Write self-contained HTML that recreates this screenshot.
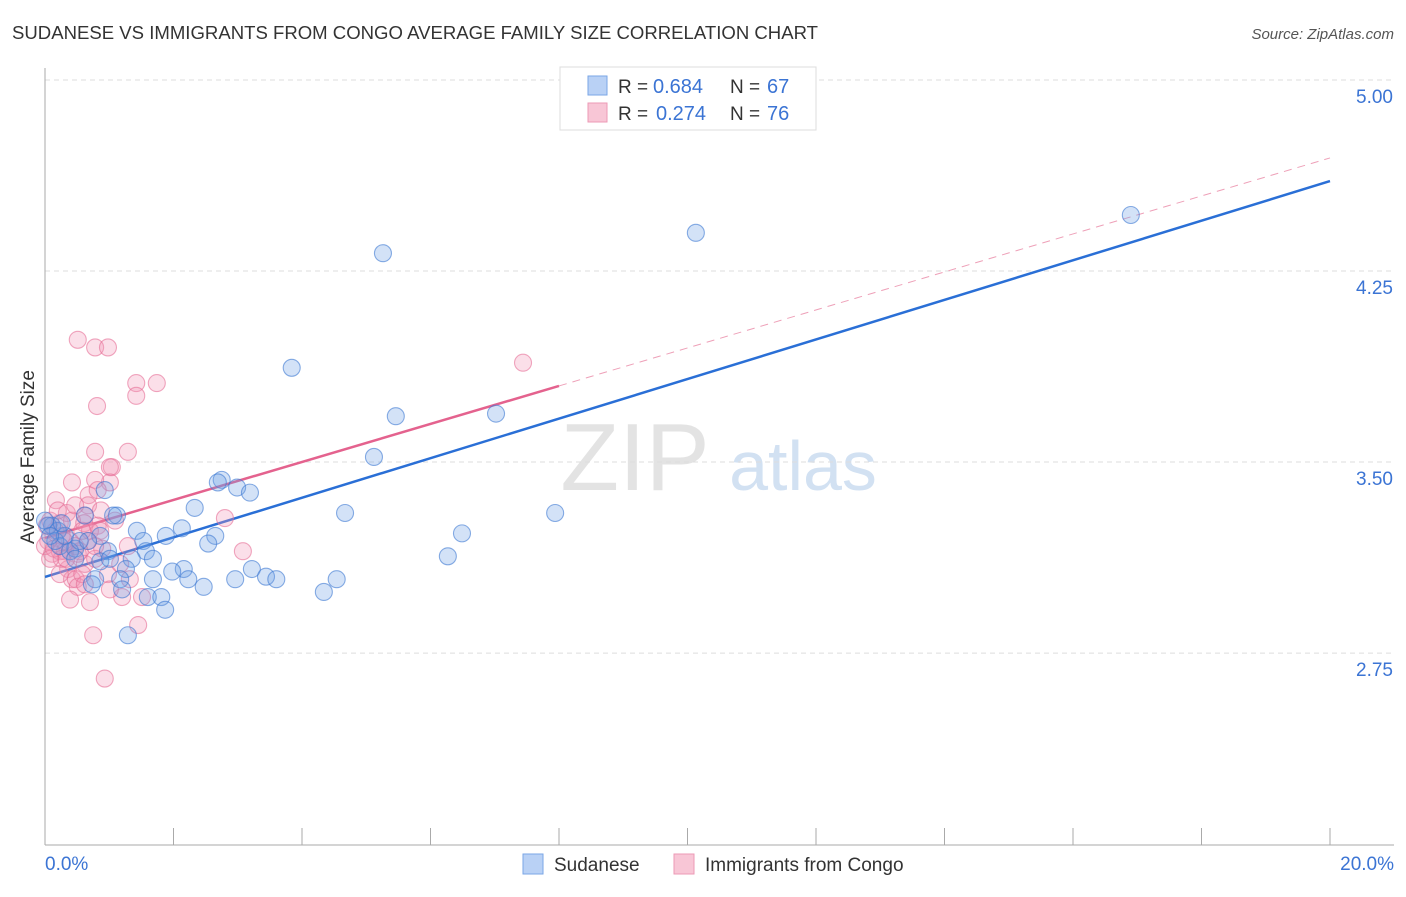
<!DOCTYPE html>
<html><head><meta charset="utf-8">
<style>
body{margin:0;background:#fff;font-family:"Liberation Sans",sans-serif;}
svg text{font-family:"Liberation Sans",sans-serif;}
</style></head>
<body>
<svg id="chart" width="1406" height="892" xmlns="http://www.w3.org/2000/svg">
<text x="12" y="39" font-size="18" fill="#333" textLength="806" lengthAdjust="spacingAndGlyphs">SUDANESE VS IMMIGRANTS FROM CONGO AVERAGE FAMILY SIZE CORRELATION CHART</text>
<text x="1394" y="39" font-size="15" fill="#555" font-style="italic" text-anchor="end">Source: ZipAtlas.com</text>
<g>
<text x="635" y="490" font-size="96" fill="#ddd" text-anchor="middle" font-family="Liberation Serif" opacity="0.8">ZIP</text>
<text x="803" y="490" font-size="70" fill="#c8daf0" text-anchor="middle" opacity="0.8">atlas</text>
</g>
<g id="grid"></g>
<g id="axes"></g>
<g id="lines"></g>
<g id="pts"></g>
<text transform="translate(34,457) rotate(-90)" font-size="19" fill="#333" text-anchor="middle">Average Family Size</text>
<g>
<rect x="560" y="67" width="256" height="63" fill="#fff" stroke="#ddd"/>
<rect x="588" y="76" width="19" height="19" fill="#b9d1f5" stroke="#7aa6e6"/>
<rect x="588" y="103" width="19" height="19" fill="#f8c6d6" stroke="#ec9ab6"/>
<text x="618" y="93" font-size="19" fill="#333">R =</text>
<text x="653" y="93" font-size="20" fill="#3b74d4">0.684</text>
<text x="730" y="93" font-size="19" fill="#333">N =</text>
<text x="767" y="93" font-size="20" fill="#3b74d4">67</text>
<text x="618" y="120" font-size="19" fill="#333">R =</text>
<text x="656" y="120" font-size="20" fill="#3b74d4">0.274</text>
<text x="730" y="120" font-size="19" fill="#333">N =</text>
<text x="767" y="120" font-size="20" fill="#3b74d4">76</text>
</g>
<g>
<rect x="523" y="854" width="20" height="20" fill="#b9d1f5" stroke="#7aa6e6"/>
<text x="554" y="871" font-size="19" fill="#333">Sudanese</text>
<rect x="674" y="854" width="20" height="20" fill="#f8c6d6" stroke="#ec9ab6"/>
<text x="705" y="871" font-size="19" fill="#333">Immigrants from Congo</text>
</g>
</svg>
<script>
const yTicks=[5.00,4.25,3.50,2.75];
const xTickLabels=["0.0%","20.0%"];
const blueX=[16.90,10.13,5.26,3.84,5.46,7.02,5.12,2.75,2.69,2.99,3.19,0.93,2.33,4.67,7.94,1.12,1.06,6.49,2.13,2.65,1.43,1.88,1.53,2.54,0.86,0.11,0.20,0.47,0.67,0.98,1.57,1.68,1.35,6.27,0.86,1.26,2.16,1.98,3.22,3.44,3.60,2.23,1.68,2.96,1.17,0.78,4.54,4.34,2.47,1.20,1.60,1.81,1.87,1.29,0.23,0.39,0.05,0.16,0.31,0.62,1.01,0.54,0.26,0.47,0.73,0.0,0.08];
const blueY=[4.47,4.40,4.32,3.87,3.68,3.69,3.52,3.43,3.42,3.40,3.38,3.39,3.32,3.30,3.30,3.29,3.29,3.22,3.24,3.21,3.23,3.21,3.19,3.18,3.21,3.25,3.23,3.16,3.19,3.15,3.15,3.12,3.12,3.13,3.11,3.08,3.08,3.07,3.08,3.05,3.04,3.04,3.04,3.04,3.04,3.04,3.04,2.99,3.01,3.00,2.97,2.97,2.92,2.82,3.17,3.15,3.25,3.19,3.21,3.29,3.12,3.19,3.26,3.12,3.02,3.27,3.21];
const pinkX=[0.51,0.78,0.98,1.42,1.74,1.42,0.81,0.78,1.29,0.42,1.04,1.01,1.01,0.17,0.78,0.68,0.67,0.87,0.62,0.23,0.34,0.42,0.82,0.61,2.80,0.70,0.39,0.47,0.31,0.11,0.23,0.54,0.89,1.29,3.08,0.16,0.26,0.05,0.08,0.62,0.36,0.42,0.48,0.98,1.32,0.51,0.70,1.20,1.51,7.44,1.45,0.75,0.93,0.26,0.78,0.58,1.17,0.67,0.86,0.0,0.20,0.47,0.82,1.09,0.33,0.14,0.03,0.39,0.62,1.01,0.23,0.51,0.78,0.30,0.58,0.08];
const pinkY=[3.98,3.95,3.95,3.81,3.81,3.76,3.72,3.54,3.54,3.42,3.48,3.48,3.42,3.35,3.43,3.37,3.33,3.31,3.29,3.26,3.30,3.27,3.25,3.26,3.28,3.23,3.19,3.17,3.15,3.14,3.15,3.15,3.16,3.17,3.15,3.23,3.21,3.19,3.27,3.10,3.08,3.04,3.04,3.06,3.04,3.01,2.95,2.97,2.97,3.89,2.86,2.82,2.65,3.12,3.12,3.06,3.10,3.19,3.23,3.17,3.31,3.33,3.39,3.27,3.12,3.16,3.25,2.96,3.02,3.00,3.06,3.14,3.17,3.19,3.23,3.12];
const blueTrend=[3.049,4.603];
const pinkTrend=[3.202,4.694];
const pinkSolidEnd=8;
const NS="http://www.w3.org/2000/svg";
const X=p=>45+p*64.25;
const Y=v=>80+(5-v)*254.7;
function mk(tag,attrs,parent){const e=document.createElementNS(NS,tag);for(const k in attrs)e.setAttribute(k,attrs[k]);parent.appendChild(e);return e;}
const grid=document.getElementById('grid'),axes=document.getElementById('axes'),lines=document.getElementById('lines'),pts=document.getElementById('pts');
yTicks.forEach(v=>{
  const l=mk('line',{x1:45,x2:1394,y1:Y(v),y2:Y(v),stroke:'#ddd','stroke-dasharray':'5,4'},grid);
  
  
  const t=mk('text',{x:1393,y:Y(v)+23,'font-size':19,fill:'#3b74d4','text-anchor':'end'},axes);
  t.textContent=v.toFixed(2);
  
  
});
mk('line',{x1:45,x2:45,y1:68,y2:845,stroke:'#aaa'},axes);
mk('line',{x1:45,x2:1394,y1:845,y2:845,stroke:'#aaa'},axes);
for(let i=0;i<=10;i++){const tk=mk('line',{x1:X(i*2),x2:X(i*2),y1:828,y2:845,stroke:'#aaa'},axes);
  
  }
[[0,'start',45],[20,'end',1394]].forEach((d,i)=>{const t=mk('text',{x:d[2],y:870,'font-size':19,fill:'#3b74d4','text-anchor':d[1]},axes);t.textContent=xTickLabels[i];
  
  });
function drawPts(xs,ys,fill,stroke,name){xs.forEach((x,i)=>{const c=mk('circle',{cx:X(x),cy:Y(ys[i]),r:8.5,fill:fill,stroke:stroke,'stroke-width':1.1},pts);
  
  });}
drawPts(pinkX,pinkY,'rgba(242,150,182,0.3)','rgba(230,110,150,0.6)','congo-point');
drawPts(blueX,blueY,'rgba(110,160,230,0.3)','rgba(60,120,210,0.6)','sudanese-point');
const pv=p=>pinkTrend[0]+(pinkTrend[1]-pinkTrend[0])*p/20;
const bl=mk('line',{x1:X(0),y1:Y(blueTrend[0]),x2:X(20),y2:Y(blueTrend[1]),stroke:'#2a6fd6','stroke-width':2.5},lines);


const ps=mk('line',{x1:X(0),y1:Y(pv(0)),x2:X(pinkSolidEnd),y2:Y(pv(pinkSolidEnd)),stroke:'#e4628e','stroke-width':2.5},lines);


const pd=mk('line',{x1:X(pinkSolidEnd),y1:Y(pv(pinkSolidEnd)),x2:X(20),y2:Y(pv(20)),stroke:'#eea0b8','stroke-width':1,'stroke-dasharray':'8,6'},lines);


</script>
</body></html>
